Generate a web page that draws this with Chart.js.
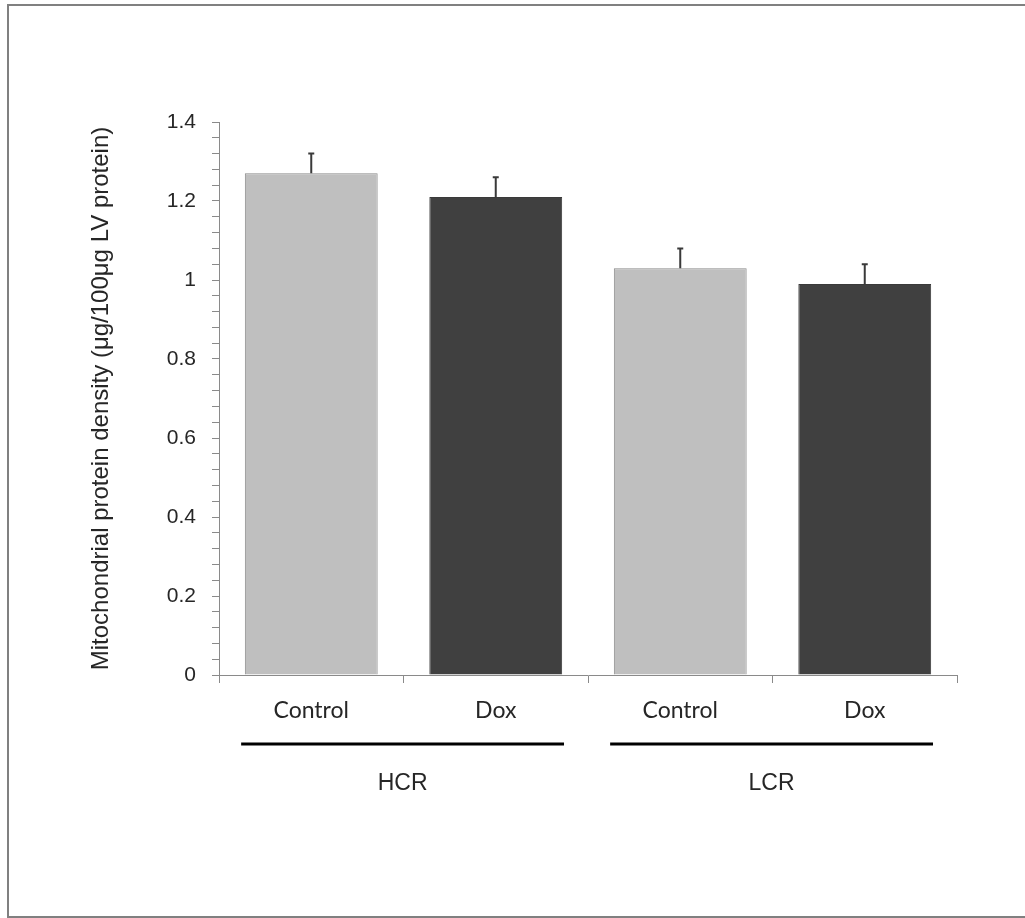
<!DOCTYPE html>
<html>
<head>
<meta charset="utf-8">
<script src="https://cdn.jsdelivr.net/npm/chart.js@4"></script>
<style>
  html, body { margin: 0; padding: 0; background: #fff; }
  #wrap { width: 1025px; height: 918px; position: relative; }
</style>
</head>
<body>
<div id="wrap"><canvas id="chart" width="1025" height="918"></canvas></div>
<script>
// data
const categories = ['Control', 'Dox', 'Control', 'Dox'];
const meanValues = [1.27, 1.21, 1.03, 0.99];
const errValues = [0.05, 0.05, 0.05, 0.05];
const groupNames = ['HCR', 'LCR'];
const groupMembers = [[0, 1], [2, 3]];
const yTitle = 'Mitochondrial protein density (\u03bcg/100\u03bcg LV protein)';

const lightFill = '#bfbfbf';
const darkFill = '#404040';

// error bars (upper only, small cap)
const errorBars = {
  id: 'errorBars',
  afterDatasetsDraw(chart) {
    const ctx = chart.ctx;
    const y = chart.scales.y;
    const meta = chart.getDatasetMeta(0);
    ctx.save();
    ctx.strokeStyle = '#3a3a3a';
    ctx.lineWidth = 2;
    meta.data.forEach((bar, i) => {
      const top = y.getPixelForValue(meanValues[i] + errValues[i]);
      const base = y.getPixelForValue(meanValues[i]);
      ctx.beginPath();
      ctx.moveTo(bar.x, base);
      ctx.lineTo(bar.x, top);
      ctx.moveTo(bar.x - 3, top);
      ctx.lineTo(bar.x + 3, top);
      ctx.stroke();
    });
    ctx.restore();
  }
};

// group underlines + names, and outer frame
const groupLabels = {
  id: 'groupLabels',
  beforeDraw(chart) {
    const ctx = chart.ctx;
    ctx.save();
    ctx.fillStyle = '#fff';
    ctx.fillRect(0, 0, chart.width, chart.height);
    ctx.strokeStyle = '#808080';
    ctx.lineWidth = 2;
    ctx.beginPath();
    ctx.moveTo(1030, 5);
    ctx.lineTo(8, 5);
    ctx.lineTo(8, 917);
    ctx.lineTo(1030, 917);
    ctx.stroke();
    ctx.restore();
  },
  afterDraw(chart) {
    const ctx = chart.ctx;
    const x = chart.scales.x;
    const catW = x.getPixelForValue(1) - x.getPixelForValue(0);
    ctx.save();
    groupMembers.forEach((m, g) => {
      const x0 = x.getPixelForValue(m[0]) - 0.38 * catW;
      const x1 = x.getPixelForValue(m[m.length - 1]) + 0.37 * catW;
      ctx.strokeStyle = '#000';
      ctx.lineWidth = 3;
      ctx.beginPath();
      ctx.moveTo(x0, 744);
      ctx.lineTo(x1, 744);
      ctx.stroke();
      ctx.fillStyle = '#262626';
      ctx.font = '23px "Liberation Sans", Arial, sans-serif';
      ctx.textAlign = 'center';
      ctx.textBaseline = 'middle';
      ctx.fillText(groupNames[g], (x0 + x1) / 2, 784);
    });
    ctx.restore();
  }
};

new Chart(document.getElementById('chart'), {
  type: 'bar',
  data: {
    labels: categories,
    datasets: [{
      data: meanValues,
      backgroundColor: [lightFill, darkFill, lightFill, darkFill],
      borderColor: ['#8a8a8a', '#3a3a3a', '#8a8a8a', '#3a3a3a'],
      borderWidth: 1,
      borderSkipped: 'bottom',
      barPercentage: 0.72,
      categoryPercentage: 1.0
    }]
  },
  options: {
    responsive: false,
    animation: false,
    layout: { padding: { left: 82, right: 68, top: 122, bottom: 183 } },
    plugins: { legend: { display: false }, tooltip: { enabled: false } },
    scales: {
      x: {
        offset: true,
        grid: { display: true, offset: true, drawOnChartArea: false, drawTicks: true, tickLength: 8, color: '#8a8a8a' },
        border: { display: true, color: '#8a8a8a', width: 1 },
        ticks: { color: '#262626', font: { family: 'Lato, "Open Sans", sans-serif', size: 23 }, padding: 14 },
        afterFit(s) { s.height = 60; }
      },
      y: {
        min: 0,
        max: 1.4,
        grid: { display: true, drawOnChartArea: false, drawTicks: true, tickLength: 7, color: '#8a8a8a' },
        border: { display: true, color: '#8a8a8a', width: 1 },
        ticks: {
          stepSize: 0.04,
          autoSkip: false,
          padding: 16,
          color: '#262626',
          font: { family: '"Liberation Sans", Arial, sans-serif', size: 21 },
          callback(v) {
            const k = v * 5;
            if (Math.abs(k - Math.round(k)) > 1e-6) return '';
            return String(+v.toFixed(1));
          }
        },
        title: {
          display: true,
          text: yTitle,
          color: '#262626',
          font: { family: '"Liberation Sans", Arial, sans-serif', size: 24 },
          padding: { top: 5, bottom: 0 }
        },
        afterFit(s) { s.width = 137; }
      }
    }
  },
  plugins: [errorBars, groupLabels]
});
</script>
</body>
</html>
